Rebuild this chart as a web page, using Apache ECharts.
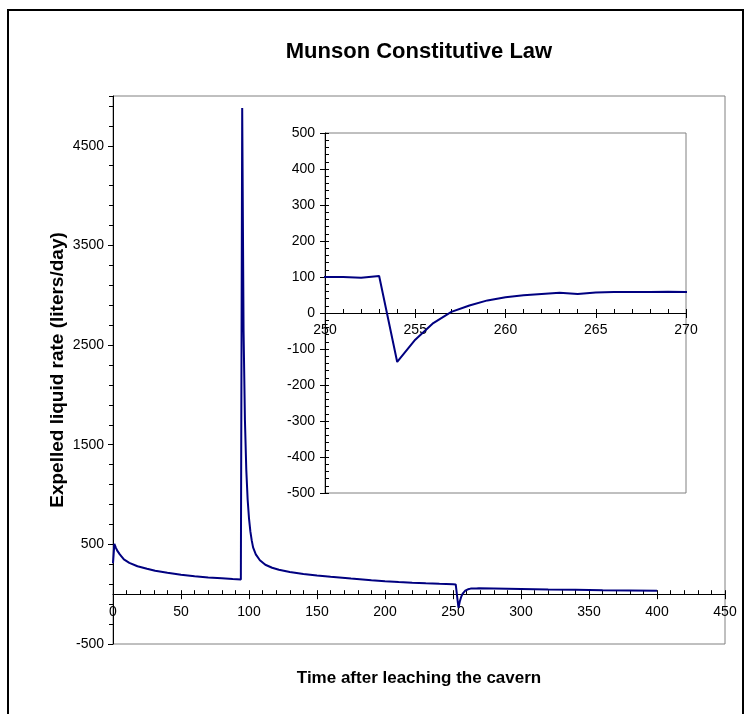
<!DOCTYPE html>
<html>
<head>
<meta charset="utf-8">
<script src="https://cdn.jsdelivr.net/npm/echarts@6/dist/echarts.min.js"></script>
<style>
  html, body { margin: 0; padding: 0; background: #fff; }
  #chart { width: 746px; height: 714px; }
</style>
</head>
<body>
<div id="chart"></div>
<script>
// Expelled liquid rate over time (days after leaching), Munson creep law
const times = [
  0, 1, 2, 3, 5, 8, 12, 18, 25, 31, 40, 50, 60, 70, 80, 88, 94,
  95, 96, 97, 98, 99, 100, 101, 102, 103, 105, 108, 112, 117, 122, 130, 140, 150,
  160, 175, 190, 200, 210, 220, 230, 240,
  250, 251, 252, 253, 254, 255, 256, 257, 258, 259, 260,
  261, 262, 263, 264, 265, 266, 267, 268, 269, 270,
  280, 300, 320, 340, 360, 380, 400
];
const rates = [
  310, 505, 470, 440, 400, 350, 315, 280, 255, 235, 215, 195, 180, 168, 160, 153, 148,
  4880, 2650, 1750, 1250, 950, 760, 630, 540, 470, 400, 340, 295, 265, 245, 222, 203, 188,
  175, 157, 140, 130, 122, 115, 109, 104,
  100, 100, 98, 103, -136, -74, -28, 3, 21, 35, 44,
  49, 53, 56, 53, 57, 58, 58, 58, 59, 58,
  57, 53, 48, 44, 40, 37, 34
];

// Axis scales: main chart and the inset zoomed on the drop near day 254
const mainXTicks = { min: 0, max: 450, major: 50, minor: 10 };
const mainYTicks = { min: -500, max: 5000, major: 1000, minor: 200 };
const insetXTicks = { min: 250, max: 270, major: 5, minor: 1 };
const insetYTicks = { min: -500, max: 500, major: 100, minor: 20 };

const series = times.map((t, i) => [t, rates[i]]);

const FONT = 'Liberation Sans, Arial, Helvetica, sans-serif';
const LINE = '#000080';
const TICK_FONT = 14;

// plot rectangles
const mainBox = { left: 113, top: 96, width: 612, height: 548 };
const insetBox = { left: 325, top: 133, width: 361, height: 360 };

// distance from the bottom of a plot box up to its y = 0 line
function zeroOffset(box, yTicks) {
  return -box.height * (0 - yTicks.min) / (yTicks.max - yTicks.min);
}

function plainLabel(v) { return String(v); }

function majorAxis(grid, ticks, extra) {
  return Object.assign({
    type: 'value', gridIndex: grid,
    min: ticks.min, max: ticks.max, interval: ticks.major,
    axisLine: { show: true, onZero: false, lineStyle: { color: '#000', width: 1 } },
    axisTick: { show: true, inside: false, length: 5, lineStyle: { color: '#000' } },
    axisLabel: { color: '#000', fontSize: TICK_FONT, fontFamily: FONT, formatter: plainLabel },
    splitLine: { show: false }
  }, extra || {});
}
function minorAxis(grid, ticks, extra) {
  return Object.assign({
    type: 'value', gridIndex: grid,
    min: ticks.min, max: ticks.max, interval: ticks.minor,
    axisLine: { show: false, onZero: false },
    axisLabel: { show: false },
    splitLine: { show: false }
  }, extra || {});
}

const mainZero = zeroOffset(mainBox, mainYTicks);
const insetZero = zeroOffset(insetBox, insetYTicks);

const chart = echarts.init(document.getElementById('chart'), null, { renderer: 'canvas' });
chart.setOption({
  animation: false,
  backgroundColor: '#fff',
  graphic: [
    {
      type: 'text', silent: true, z: 100,
      x: mainBox.left + mainBox.width / 2, y: 52,
      style: {
        text: 'Munson Constitutive Law', fill: '#000',
        font: 'bold 22px ' + FONT, textAlign: 'center', textVerticalAlign: 'middle'
      }
    },
    {
      type: 'rect', z: 100, silent: true,
      shape: { x: 8, y: 10, width: 735, height: 712 },
      style: { fill: 'none', stroke: '#000', lineWidth: 2 }
    }
  ],
  grid: [
    Object.assign({ show: true, borderColor: '#808080', borderWidth: 1, backgroundColor: '#fff',
      containLabel: false, outerBoundsMode: 'none' }, mainBox),
    Object.assign({ show: true, borderColor: '#808080', borderWidth: 1, backgroundColor: '#fff',
      containLabel: false, outerBoundsMode: 'none', z: 5 }, insetBox)
  ],
  xAxis: [
    majorAxis(0, mainXTicks, {
      position: 'bottom', offset: mainZero,
      axisLabel: { color: '#000', fontSize: TICK_FONT, fontFamily: FONT, margin: 11, formatter: plainLabel },
      name: 'Time after leaching the cavern', nameLocation: 'middle', nameGap: 76,
      nameMoveOverlap: false,
      nameTextStyle: { fontFamily: FONT, fontSize: 17, fontWeight: 'bold', color: '#000' }
    }),
    minorAxis(0, mainXTicks, {
      position: 'bottom', offset: mainZero,
      axisTick: { show: true, inside: true, length: 4, lineStyle: { color: '#000' } }
    }),
    majorAxis(1, insetXTicks, {
      position: 'bottom', offset: insetZero, z: 10,
      axisLabel: { color: '#000', fontSize: TICK_FONT, fontFamily: FONT, margin: 10, formatter: plainLabel }
    }),
    minorAxis(1, insetXTicks, {
      position: 'bottom', offset: insetZero, z: 10,
      axisTick: { show: true, inside: true, length: 4, lineStyle: { color: '#000' } }
    })
  ],
  yAxis: [
    majorAxis(0, mainYTicks, {
      position: 'left',
      axisLabel: { color: '#000', fontSize: TICK_FONT, fontFamily: FONT, margin: 9,
        showMaxLabel: false, formatter: plainLabel },
      name: 'Expelled liquid rate (liters/day)', nameLocation: 'middle', nameGap: 46,
      nameMoveOverlap: false,
      nameTextStyle: { fontFamily: FONT, fontSize: 19, fontWeight: 'bold', color: '#000' }
    }),
    minorAxis(0, mainYTicks, {
      position: 'left',
      axisTick: { show: true, inside: false, length: 4, lineStyle: { color: '#000' } }
    }),
    majorAxis(1, insetYTicks, {
      position: 'left', z: 10,
      axisLabel: { color: '#000', fontSize: TICK_FONT, fontFamily: FONT, margin: 10, formatter: plainLabel }
    }),
    minorAxis(1, insetYTicks, {
      position: 'left', z: 10,
      axisTick: { show: true, inside: true, length: 4, lineStyle: { color: '#000' } }
    })
  ],
  series: [
    {
      type: 'line', xAxisIndex: 0, yAxisIndex: 0, data: series,
      showSymbol: false, clip: true, z: 3,
      lineStyle: { color: LINE, width: 2 }, itemStyle: { color: LINE }
    },
    {
      type: 'line', xAxisIndex: 2, yAxisIndex: 2, data: series,
      showSymbol: false, clip: true, z: 11,
      lineStyle: { color: LINE, width: 2 }, itemStyle: { color: LINE }
    }
  ]
});
</script>
</body>
</html>
